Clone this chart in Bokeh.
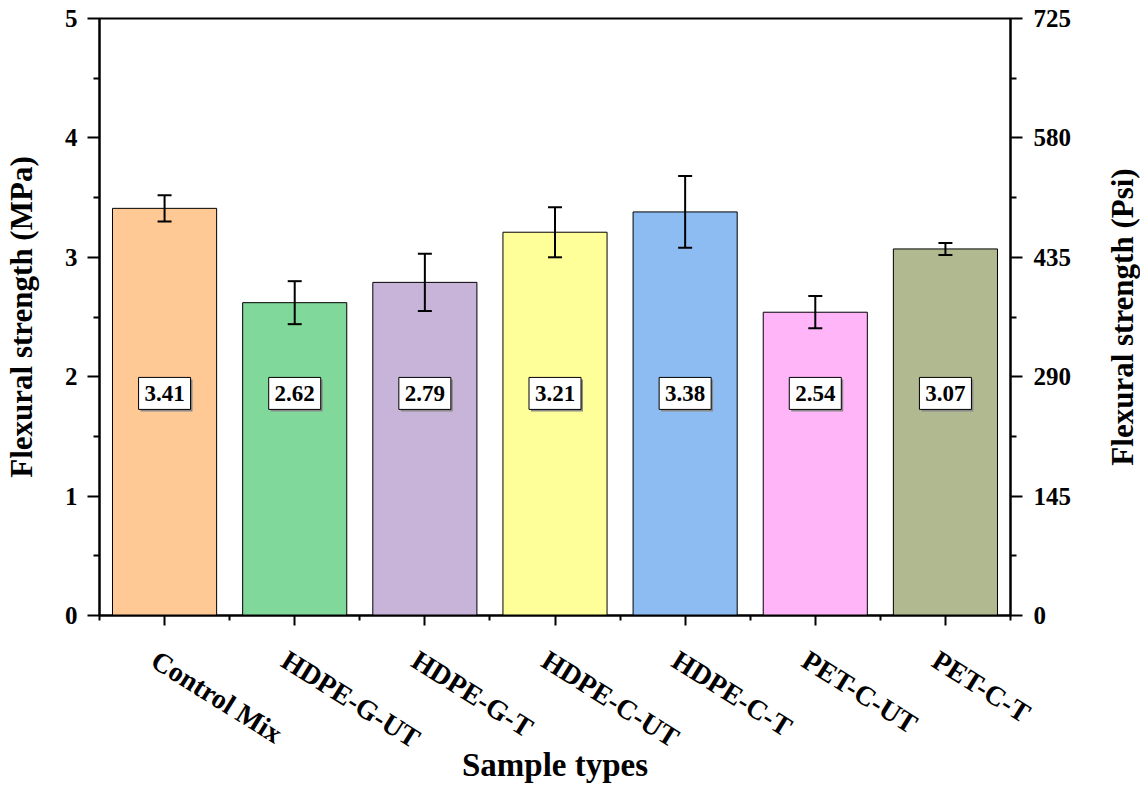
import math

from bokeh.plotting import figure
from bokeh.models import (ColumnDataSource, Whisker, TeeHead, LinearAxis, Range1d,
                          FixedTicker, Label)
from bokeh.core.properties import value
from bokeh.embed import file_html
from bokeh.resources import INLINE

# data
samples = ["Control Mix", "HDPE-G-UT", "HDPE-G-T", "HDPE-C-UT", "HDPE-C-T", "PET-C-UT", "PET-C-T"]
strength = [3.41, 2.62, 2.79, 3.21, 3.38, 2.54, 3.07]
std_dev = [0.11, 0.18, 0.24, 0.21, 0.30, 0.135, 0.05]
bar_colors = ["#FFC996", "#80D99A", "#C8B3D9", "#FFFF99", "#8CBCF1", "#FFB5F8", "#B0B98F"]
mpa_ticks = [0, 1, 2, 3, 4, 5]
psi_ticks = [0, 145, 290, 435, 580, 725]
label_level = 1.86

FONT = "Liberation Serif"
W, H = 1140, 786
TOP, BOTTOM = 18, 171

xs = list(range(1, len(samples) + 1))
src = ColumnDataSource(dict(
    x=xs,
    top=strength,
    color=bar_colors,
    upper=[s + e for s, e in zip(strength, std_dev)],
    lower=[s - e for s, e in zip(strength, std_dev)],
    lab_y=[label_level] * len(samples),
    sh_x=[x + 0.015 for x in xs],
    sh_y=[label_level - 0.017] * len(samples),
    text=["%.2f" % s for s in strength],
))

x_lo, x_hi = 0.5, len(samples) + 0.5
p = figure(width=W, height=H, output_backend="svg", toolbar_location=None,
           x_range=Range1d(x_lo, x_hi), y_range=Range1d(0, 5),
           min_border_left=98, min_border_right=130, min_border_top=TOP,
           min_border_bottom=BOTTOM)
p.grid.visible = False
p.outline_line_color = "black"
p.outline_line_width = 2
p.background_fill_color = "white"

p.vbar(x="x", top="top", bottom=0, width=0.8, fill_color="color", line_color="black",
       line_width=1, source=src)

err = Whisker(base="x", upper="upper", lower="lower", source=src, line_width=2,
              line_color="black", level="overlay",
              upper_head=TeeHead(size=14, line_width=2, line_color="black"),
              lower_head=TeeHead(size=14, line_width=2, line_color="black"))
p.add_layout(err)

# value boxes with a small shadow
p.rect(x="sh_x", y="sh_y", width=52, height=32, width_units="screen", height_units="screen",
       fill_color="#8a8a8a", line_color=None, source=src)
p.rect(x="x", y="lab_y", width=52, height=32, width_units="screen", height_units="screen",
       fill_color="white", line_color="black", line_width=1, source=src)
p.text(x="x", y="lab_y", text="text", text_align="center", text_baseline="middle",
       text_font=value(FONT), text_font_style="bold", text_font_size="23px",
       text_color="black", source=src)

def style_axis(ax):
    ax.axis_line_width = 2
    ax.axis_line_color = "black"
    ax.major_tick_line_width = 2
    ax.minor_tick_line_width = 2
    ax.major_tick_out = 12
    ax.major_tick_in = 0
    ax.minor_tick_out = 6
    ax.minor_tick_in = 0
    ax.major_label_text_font = FONT
    ax.major_label_text_font_style = "bold"
    ax.major_label_text_font_size = "25px"
    ax.major_label_text_color = "black"
    ax.axis_label_text_font = FONT
    ax.axis_label_text_font_style = "bold"
    ax.axis_label_text_font_size = "31px"
    ax.axis_label_text_color = "black"

# left axis (MPa)
ly = p.yaxis[0]
ly.ticker = FixedTicker(ticks=mpa_ticks,
                        minor_ticks=[t + 0.5 for t in mpa_ticks[:-1]])
ly.axis_label = "Flexural strength (MPa)"
style_axis(ly)
ly.major_label_standoff = 10
ly.axis_label_standoff = 23

# right axis (psi)
p.extra_y_ranges = {"psi": Range1d(psi_ticks[0], psi_ticks[-1])}
ry = LinearAxis(y_range_name="psi")
ry.ticker = FixedTicker(ticks=psi_ticks,
                        minor_ticks=[t + 72.5 for t in psi_ticks[:-1]])
style_axis(ry)
ry.major_label_standoff = 11
p.add_layout(ry, "right")

# right axis title in its own side panel, reading bottom to top like the left one
frame_h = H - TOP - BOTTOM
p.add_layout(Label(x=48, y=frame_h / 2, x_units="screen", y_units="screen",
                   text="Flexural strength (Psi)", angle=math.pi / 2,
                   text_align="center", text_baseline="middle",
                   text_font=FONT, text_font_style="bold", text_font_size="31px",
                   text_color="black"), "right")

# bottom axis: line and the short ticks between categories
bx = p.xaxis[0]
bx.ticker = FixedTicker(ticks=[], minor_ticks=[x + 0.5 for x in [0] + xs])
style_axis(bx)
bx.major_tick_out = 5
bx.minor_tick_out = 5
bx.major_label_standoff = 0

# category names on a second axis, nudged left like the original rotated labels;
# its minor ticks put the longer centre ticks back under each bar
shift = 0.08
p.extra_x_ranges = {"names": Range1d(x_lo + shift, x_hi + shift)}
nx = LinearAxis(x_range_name="names", axis_label="Sample types")
nx.ticker = FixedTicker(ticks=xs, minor_ticks=[x + shift for x in xs])
nx.major_label_overrides = {x: s for x, s in zip(xs, samples)}
style_axis(nx)
nx.axis_line_color = None
nx.major_tick_line_color = None
nx.major_tick_out = 0
nx.minor_tick_in = 5
nx.minor_tick_out = 5
nx.axis_label_text_font_size = "33px"
nx.major_label_text_font_size = "28px"
nx.major_label_orientation = -0.56
nx.major_label_standoff = 32
nx.axis_label_standoff = -23
p.add_layout(nx, "below")

open("out.html", "w").write(file_html(p, INLINE))
